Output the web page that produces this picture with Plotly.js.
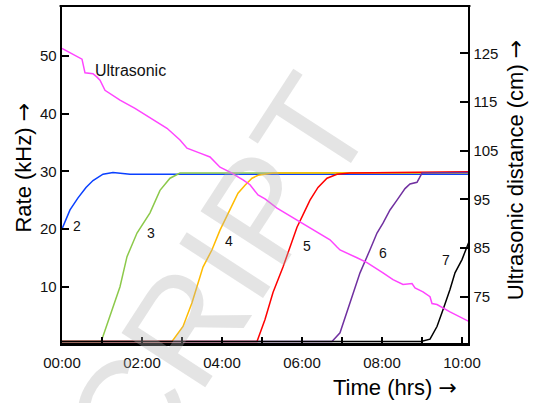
<!DOCTYPE html>
<html>
<head>
<meta charset="utf-8">
<script src="https://cdn.plot.ly/plotly-3.0.1.min.js"></script>
<style>html,body{margin:0;padding:0;background:#fff;}#chart{width:533px;height:403px;}</style>
</head>
<body>
<div id="chart"></div>
<script>
// ---- data (time in hours, rate in kHz, distance in cm) ----
var t2 = [0, 0.2, 0.4, 0.6, 0.775, 1.025, 1.275, 1.7, 10.15];
var rate2 = [20.0, 23.3, 25.4, 27.2, 28.4, 29.5, 29.8, 29.5, 29.5];

var t3 = [0, 0.975, 1.025, 1.25, 1.45, 1.625, 1.875, 2.2, 2.45, 2.7, 2.95, 10.15];
var rate3 = [0.5, 0.5, 1.4, 6.0, 10.0, 15.2, 19.3, 22.8, 26.7, 28.8, 29.7, 29.7];

var t4 = [0, 2.75, 3.025, 3.25, 3.525, 3.75, 3.95, 4.2, 4.4, 4.575, 4.75, 4.9, 5.275, 10.15];
var rate4 = [0.5, 0.5, 3.1, 7.2, 13.4, 16.4, 19.8, 23.3, 26.2, 27.6, 28.8, 29.3, 29.7, 29.8];

var t5 = [0, 4.875, 5.075, 5.275, 5.525, 5.7, 5.875, 6.0, 6.2, 6.4, 6.625, 6.875, 7.2, 10.15];
var rate5 = [0.5, 0.5, 4.3, 9.0, 13.4, 16.9, 20.3, 22.1, 25.0, 27.2, 28.8, 29.5, 29.7, 29.9];

var t6 = [0, 6.75, 6.95, 7.2, 7.45, 7.7, 7.875, 8.025, 8.2, 8.375, 8.575, 8.7, 8.875, 9.0, 10.15];
var rate6 = [0.5, 0.5, 2.0, 7.2, 12.4, 16.4, 19.3, 21.0, 23.3, 25.0, 27.0, 27.8, 28.1, 29.7, 29.8];

var t7 = [0, 8.975, 9.2, 9.375, 9.525, 9.7, 9.825, 10.0, 10.175];
var rate7 = [0.5, 0.5, 0.9, 3.1, 6.0, 9.5, 12.4, 14.7, 17.8];

var tUltra = [0, 0.5, 0.575, 0.775, 0.875, 0.95, 1.075, 1.45, 1.825, 2.4, 2.625, 2.95, 3.125, 3.45, 3.7, 3.95, 4.2, 4.525, 4.7, 4.9, 5.075, 5.375, 5.775, 6.0, 6.375, 6.7, 6.875, 6.95, 7.375, 7.625, 8.025, 8.275, 8.525, 8.75, 8.825, 9.025, 9.2, 9.25, 9.375, 9.7, 10.175];
var distUltra = [126.0, 123.8, 121.0, 120.8, 120.1, 119.5, 117.4, 115.4, 113.7, 110.7, 109.6, 107.2, 105.5, 104.5, 103.7, 101.6, 100.6, 99.0, 98.0, 95.9, 95.1, 93.2, 91.2, 90.2, 88.3, 86.7, 85.2, 84.6, 83.0, 82.0, 79.9, 78.5, 77.5, 77.7, 76.8, 76.0, 75.0, 73.6, 73.4, 71.9, 69.9];

var tickHours = [0, 1, 2, 3, 4, 5, 6, 7, 8, 9, 10];
var tickText = ['00:00', '', '02:00', '', '04:00', '', '06:00', '', '08:00', '', '10:00'];
var rateTicks = [10, 20, 30, 40, 50];
var distTicks = [75, 85, 95, 105, 115, 125];

var curveLabels = ['2', '3', '4', '5', '6', '7'];
var labelT = [0.375, 2.225, 4.175, 6.125, 8.025, 9.6];
var labelRate = [20.5, 19.3, 17.9, 17.1, 15.9, 14.7];

// ---- styling ----
var FONT = 'Liberation Sans, Arial, sans-serif';
var ARROW = ' <span style="font-family:\'DejaVu Sans\'">\u2192</span>';
var colors = ['#0a40ff', '#8cc94a', '#ffbb00', '#ff0000', '#7030a0', '#000000'];
var series = [[t2, rate2], [t3, rate3], [t4, rate4], [t5, rate5], [t6, rate6], [t7, rate7]];

var traces = series.map(function (s, i) {
  return {x: s[0], y: s[1], type: 'scatter', mode: 'lines', xaxis: 'x', yaxis: 'y',
    line: {color: colors[i], width: 1.5}, showlegend: false, hoverinfo: 'skip'};
});
traces.push({x: tUltra, y: distUltra, type: 'scatter', mode: 'lines', xaxis: 'x', yaxis: 'y2',
  line: {color: '#ff44ff', width: 1.5}, showlegend: false, hoverinfo: 'skip'});

var annotations = curveLabels.map(function (txt, i) {
  return {text: txt, x: labelT[i], y: labelRate[i], xref: 'x', yref: 'y', showarrow: false,
    font: {family: FONT, size: 14, color: '#111'}};
});
annotations.push({text: 'Ultrasonic', x: 1.7, y: 47.4, xref: 'x', yref: 'y', showarrow: false,
  font: {family: FONT, size: 16, color: '#111'}});
annotations.push({text: 'Rate (kHz)' + ARROW, xref: 'paper', yref: 'paper', x: -0.094, y: 0.52,
  xanchor: 'center', yanchor: 'middle',
  textangle: -90, showarrow: false, font: {family: FONT, size: 22, color: '#000'}});
annotations.push({text: 'Ultrasonic distance (cm)' + ARROW, xref: 'paper', yref: 'paper', x: 1.116, y: 0.513,
  xanchor: 'center', yanchor: 'middle',
  textangle: -90, showarrow: false, font: {family: FONT, size: 22, color: '#000'}});
annotations.push({text: 'Time (hrs)' + ARROW, xref: 'paper', yref: 'paper', x: 0.82, y: -0.1306,
  xanchor: 'center', yanchor: 'middle',
  showarrow: false, font: {family: FONT, size: 22, color: '#000'}});
// watermark
annotations.push({text: 'MANUSCRIPT', xref: 'paper', yref: 'paper', x: 0.033, y: -0.45,
  xanchor: 'center', yanchor: 'middle', textangle: -57, showarrow: false,
  font: {family: FONT, size: 145, color: 'rgba(178,178,178,0.35)'}});

var layout = {
  width: 533, height: 403,
  margin: {l: 62, r: 65, t: 6, b: 60, pad: 0},
  paper_bgcolor: '#fff', plot_bgcolor: '#fff',
  showlegend: false,
  xaxis: {range: [0, 10.15], tickvals: tickHours, ticktext: tickText,
    ticks: 'inside', ticklen: 6, tickwidth: 2, tickcolor: '#000',
    showline: true, linewidth: 3, linecolor: '#000', showgrid: false, zeroline: false,
    ticklabelstandoff: 4,
    tickfont: {family: FONT, size: 15, color: '#111'}},
  yaxis: {range: [0.24, 58.65], tickvals: rateTicks, ticks: 'inside', ticklen: 7, tickwidth: 2,
    tickcolor: '#000', showline: true, linewidth: 2.4, linecolor: '#000', showgrid: false,
    zeroline: false, tickfont: {family: FONT, size: 15, color: '#111'}},
  yaxis2: {range: [65.49, 134.72], tickvals: distTicks, overlaying: 'y', side: 'right',
    ticks: 'inside', ticklen: 8, tickwidth: 2, tickcolor: '#000', showline: true,
    linewidth: 2.4, linecolor: '#000', showgrid: false, zeroline: false,
    tickfont: {family: FONT, size: 15, color: '#111'}},
  shapes: [{type: 'line', xref: 'paper', yref: 'paper', x0: -0.006, x1: 1.006, y0: 1, y1: 1,
    line: {color: '#000', width: 2}}],
  annotations: annotations
};

Plotly.newPlot('chart', traces, layout, {staticPlot: true, displayModeBar: false});
</script>
</body>
</html>
